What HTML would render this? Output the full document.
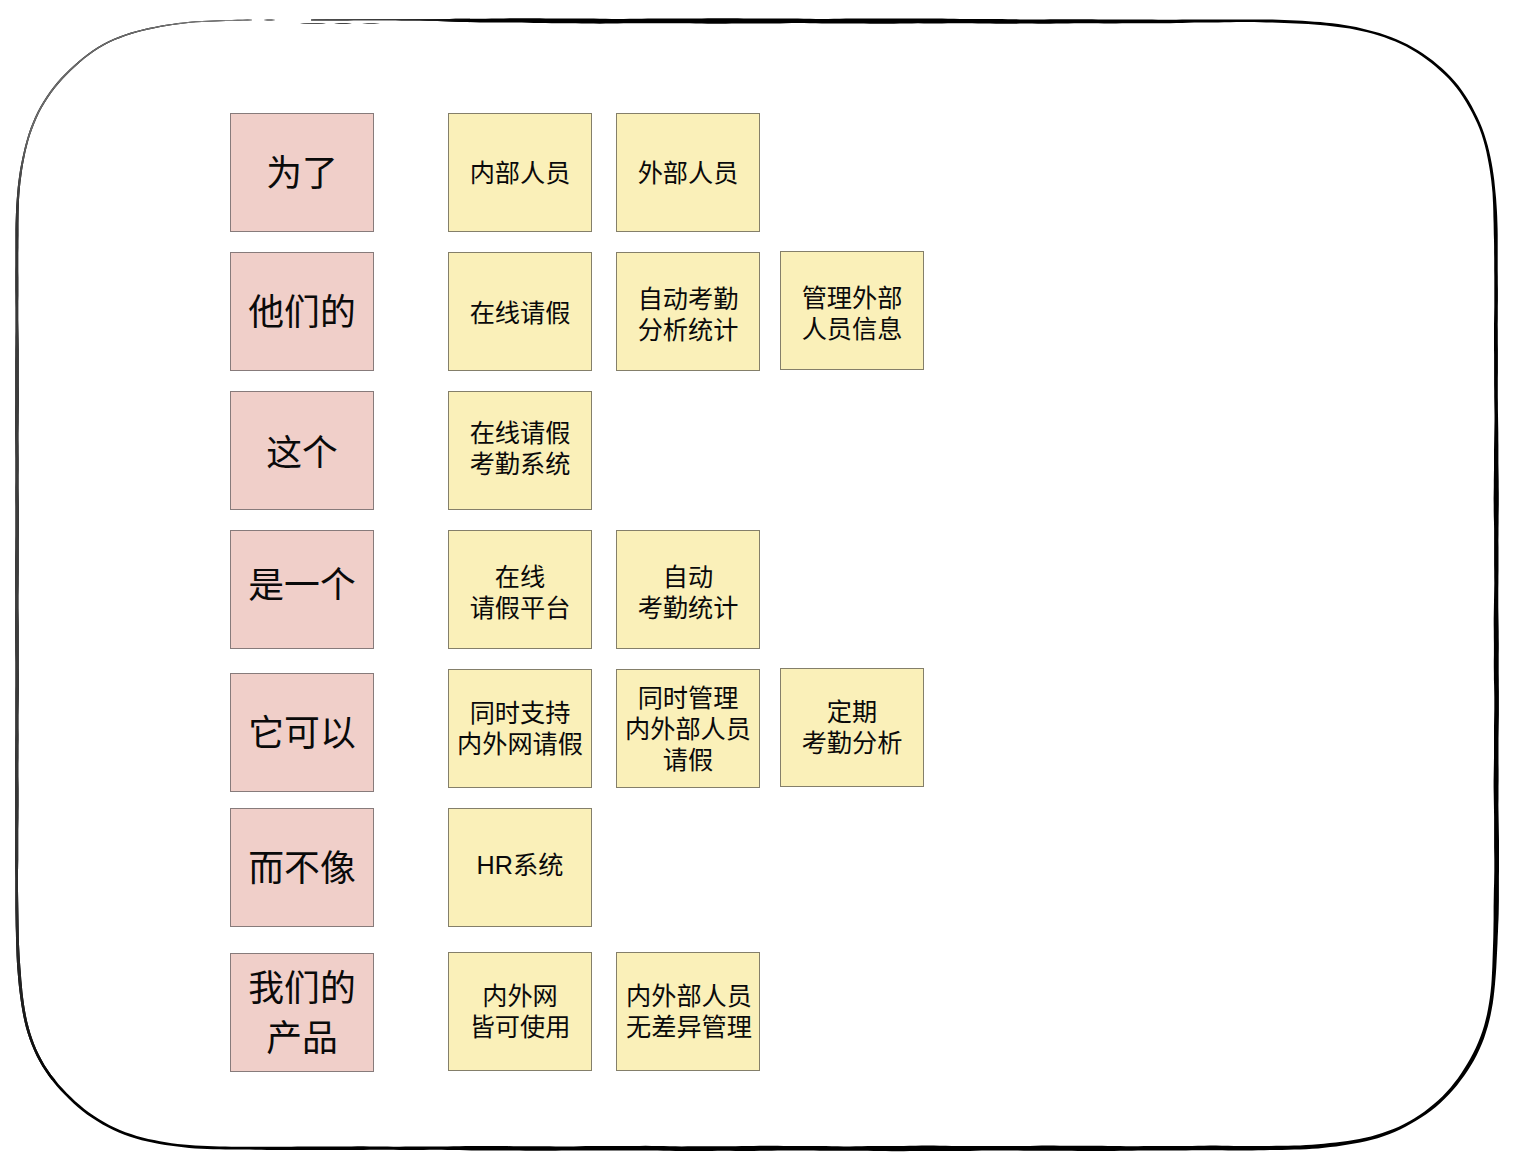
<!DOCTYPE html>
<html lang="zh-CN">
<head>
<meta charset="utf-8">
<title>Elevator pitch board</title>
<style>
html,body{margin:0;padding:0;background:#fff;}
body{width:1516px;height:1168px;overflow:hidden;font-family:"Liberation Sans","Noto Sans CJK SC",sans-serif;}
.board{position:relative;width:1516px;height:1168px;background:#fff;overflow:hidden;}
.frame{position:absolute;left:0;top:0;}
.note{position:absolute;box-sizing:border-box;width:144px;height:119px;border:1px solid #888;overflow:hidden;}
.note.pink{background:#f0cfc9;border-color:#877b7b;}
.note.yel{background:#faf0b9;border-color:#847f6a;}
.note .g{position:absolute;left:-1px;top:-1px;fill:#0a0a0a;}
.note .g text{font-family:"Liberation Sans","Noto Sans CJK SC",sans-serif;text-anchor:middle;fill:#0a0a0a;}
.note.pink .g text{font-size:35.8px;}
.note.yel .g text{font-size:25.2px;}
</style>
</head>
<body>
<div class="board">
<svg class="frame" width="1516" height="1168" viewBox="0 0 1516 1168" aria-hidden="true">
<defs><clipPath id="ring"><path d="M311.1 20.4L314.6 20.4L319.0 20.5L324.2 20.5L329.8 20.5L335.6 20.4L341.6 20.4L347.5 20.4L353.5 20.3L359.5 20.3L365.5 20.3L371.6 20.3L377.6 20.3L383.6 20.3L389.6 20.3L395.6 20.3L401.6 20.4L407.6 20.4L413.6 20.5L419.6 20.6L425.6 20.7L431.6 20.9L437.6 21.1L443.6 21.3L449.6 21.5L455.6 21.7L461.6 21.9L467.6 22.1L473.6 22.3L479.6 22.4L485.6 22.5L491.6 22.5L497.6 22.5L503.6 22.4L509.6 22.4L515.6 22.5L521.7 22.6L527.7 22.7L533.7 22.9L539.7 23.0L545.7 23.1L551.7 23.2L557.7 23.2L563.7 23.2L569.7 23.3L575.7 23.3L581.7 23.4L587.7 23.6L593.7 23.6L599.7 23.7L605.7 23.6L611.7 23.5L617.7 23.4L623.7 23.3L629.7 23.2L635.7 23.2L641.7 23.3L647.8 23.3L653.8 23.3L659.8 23.3L665.8 23.3L671.8 23.2L677.8 23.2L683.8 23.2L689.8 23.3L695.8 23.4L701.8 23.5L707.8 23.7L713.8 23.7L719.8 23.7L725.8 23.7L731.8 23.6L737.8 23.6L743.8 23.6L749.8 23.6L755.8 23.6L761.8 23.6L767.8 23.6L773.9 23.5L779.9 23.4L785.9 23.3L791.9 23.1L797.9 23.1L803.9 23.1L809.9 23.2L815.9 23.3L821.9 23.4L827.9 23.4L833.9 23.4L839.9 23.4L845.9 23.4L851.9 23.4L857.9 23.5L863.9 23.6L869.9 23.7L875.9 23.8L881.9 23.8L887.9 23.8L893.9 23.7L899.9 23.5L905.9 23.4L912.0 23.4L918.0 23.3L924.0 23.4L930.0 23.4L936.0 23.4L942.0 23.4L948.0 23.3L954.0 23.2L960.0 23.2L966.0 23.2L972.0 23.3L978.0 23.4L984.0 23.5L990.0 23.6L996.0 23.7L1002.0 23.7L1008.0 23.7L1014.0 23.7L1020.0 23.6L1026.0 23.6L1032.0 23.6L1038.0 23.7L1044.1 23.7L1050.1 23.7L1056.1 23.6L1062.1 23.5L1068.1 23.4L1074.1 23.3L1080.1 23.2L1086.1 23.2L1092.1 23.3L1098.1 23.3L1104.1 23.4L1110.1 23.4L1116.1 23.4L1122.1 23.3L1128.1 23.3L1134.1 23.2L1140.1 23.2L1146.1 23.2L1152.2 23.3L1158.2 23.3L1164.2 23.2L1170.2 23.2L1176.2 23.0L1182.2 22.9L1188.2 22.8L1194.2 22.6L1200.2 22.6L1206.2 22.5L1212.2 22.4L1218.2 22.4L1224.2 22.3L1230.2 22.2L1236.2 22.1L1242.2 22.1L1248.2 22.1L1254.2 22.1L1260.2 22.3L1266.2 22.4L1272.2 22.6L1278.2 22.8L1284.2 23.0L1290.2 23.2L1296.2 23.5L1302.1 23.7L1308.1 24.1L1314.1 24.5L1320.1 25.0L1326.0 25.6L1332.0 26.2L1337.9 26.9L1343.8 27.7L1349.7 28.6L1355.6 29.7L1361.4 30.9L1367.2 32.2L1373.0 33.8L1378.7 35.5L1384.3 37.3L1389.9 39.4L1395.4 41.6L1400.9 44.0L1406.2 46.6L1411.4 49.5L1416.5 52.5L1421.4 55.8L1426.3 59.2L1431.0 62.8L1435.6 66.5L1440.0 70.4L1444.4 74.4L1448.5 78.6L1452.5 83.0L1456.2 87.6L1459.8 92.3L1463.1 97.2L1466.2 102.3L1469.2 107.4L1472.0 112.6L1474.7 117.9L1477.2 123.3L1479.5 128.8L1481.5 134.3L1483.3 140.0L1484.9 145.7L1486.3 151.5L1487.5 157.4L1488.6 163.2L1489.6 169.1L1490.5 175.0L1491.3 180.9L1491.9 186.8L1492.5 192.8L1492.8 198.8L1493.1 204.7L1493.3 210.7L1493.4 216.7L1493.6 222.7L1493.7 228.6L1493.8 234.6L1494.0 240.6L1494.1 246.6L1494.1 252.6L1494.2 258.6L1494.2 264.6L1494.2 270.6L1494.3 276.6L1494.3 282.7L1494.3 288.7L1494.3 294.7L1494.3 300.7L1494.3 306.7L1494.2 312.7L1494.1 318.7L1494.0 324.7L1494.0 330.7L1494.0 336.7L1494.0 342.7L1494.0 348.7L1494.1 354.7L1494.1 360.7L1494.1 366.7L1494.1 372.7L1494.1 378.7L1494.1 384.7L1494.2 390.7L1494.2 396.7L1494.3 402.7L1494.4 408.8L1494.5 414.8L1494.5 420.8L1494.4 426.8L1494.3 432.8L1494.2 438.8L1494.1 444.8L1494.0 450.8L1494.0 456.8L1494.0 462.8L1494.0 468.8L1493.9 474.8L1493.8 480.8L1493.8 486.8L1493.7 492.8L1493.6 498.8L1493.7 504.8L1493.7 510.8L1493.8 516.8L1494.0 522.8L1494.1 528.8L1494.1 534.8L1494.1 540.9L1494.1 546.9L1494.1 552.9L1494.1 558.9L1494.1 564.9L1494.2 570.9L1494.2 576.9L1494.3 582.9L1494.2 588.9L1494.1 594.9L1494.0 600.9L1493.9 606.9L1493.8 612.9L1493.7 618.9L1493.7 624.9L1493.8 630.9L1493.8 636.9L1493.9 642.9L1493.9 648.9L1493.9 654.9L1493.8 660.9L1493.8 666.9L1493.9 673.0L1493.9 679.0L1494.1 685.0L1494.2 691.0L1494.3 697.0L1494.3 703.0L1494.3 709.0L1494.2 715.0L1494.1 721.0L1494.0 727.0L1494.0 733.0L1494.0 739.0L1494.0 745.0L1494.0 751.0L1494.0 757.0L1493.9 763.0L1493.8 769.0L1493.7 775.0L1493.6 781.0L1493.6 787.0L1493.7 793.0L1493.8 799.1L1493.9 805.1L1494.0 811.1L1494.1 817.1L1494.1 823.1L1494.1 829.1L1494.1 835.1L1494.1 841.1L1494.1 847.1L1494.2 853.1L1494.3 859.1L1494.3 865.1L1494.3 871.1L1494.2 877.1L1494.1 883.1L1493.9 889.1L1493.8 895.1L1493.7 901.1L1493.6 907.1L1493.6 913.1L1493.6 919.1L1493.5 925.1L1493.4 931.1L1493.3 937.1L1493.1 943.1L1492.9 949.1L1492.7 955.0L1492.5 961.0L1492.3 967.0L1492.0 973.0L1491.7 979.0L1491.3 984.9L1490.7 990.9L1490.0 996.8L1489.1 1002.7L1488.1 1008.5L1487.0 1014.3L1485.6 1020.1L1484.1 1025.8L1482.3 1031.4L1480.3 1037.0L1478.1 1042.5L1475.7 1047.9L1473.1 1053.2L1470.3 1058.4L1467.4 1063.5L1464.3 1068.6L1461.1 1073.6L1457.7 1078.4L1454.1 1083.1L1450.4 1087.7L1446.5 1092.1L1442.3 1096.4L1438.0 1100.4L1433.6 1104.3L1429.0 1108.1L1424.3 1111.7L1419.5 1115.1L1414.5 1118.3L1409.4 1121.3L1404.2 1124.1L1398.8 1126.7L1393.4 1129.0L1387.8 1131.1L1382.3 1133.1L1376.6 1134.8L1370.9 1136.4L1365.1 1137.8L1359.3 1139.0L1353.5 1140.1L1347.6 1141.0L1341.7 1141.8L1335.8 1142.5L1329.8 1143.1L1323.9 1143.7L1317.9 1144.2L1312.0 1144.7L1306.0 1145.1L1300.0 1145.4L1294.0 1145.6L1288.0 1145.7L1282.0 1145.8L1276.1 1145.8L1270.1 1145.9L1264.1 1145.9L1258.1 1146.0L1252.1 1146.1L1246.1 1146.1L1240.1 1146.0L1234.1 1145.9L1228.1 1145.8L1222.0 1145.7L1216.0 1145.6L1210.0 1145.6L1204.0 1145.7L1198.0 1145.8L1192.0 1145.9L1186.0 1145.9L1180.0 1145.9L1174.0 1145.9L1168.0 1145.9L1162.0 1145.9L1156.0 1146.0L1150.0 1146.0L1144.0 1146.1L1138.0 1146.2L1132.0 1146.3L1126.0 1146.2L1120.0 1146.1L1114.0 1146.0L1108.0 1145.9L1102.0 1145.8L1096.0 1145.8L1089.9 1145.8L1083.9 1145.8L1077.9 1145.8L1071.9 1145.8L1065.9 1145.7L1059.9 1145.7L1053.9 1145.6L1047.9 1145.6L1041.9 1145.6L1035.9 1145.7L1029.9 1145.9L1023.9 1146.0L1017.9 1146.1L1011.9 1146.1L1005.9 1146.1L999.9 1146.1L993.9 1146.0L987.9 1146.0L981.9 1146.1L975.9 1146.1L969.9 1146.1L963.9 1146.1L957.8 1146.1L951.8 1145.9L945.8 1145.8L939.8 1145.7L933.8 1145.6L927.8 1145.6L921.8 1145.6L915.8 1145.7L909.8 1145.8L903.8 1145.9L897.8 1145.9L891.8 1145.9L885.8 1145.9L879.8 1145.9L873.8 1145.9L867.8 1146.0L861.8 1146.2L855.8 1146.3L849.8 1146.4L843.8 1146.4L837.8 1146.3L831.8 1146.2L825.7 1146.1L819.7 1146.0L813.7 1146.0L807.7 1146.0L801.7 1146.0L795.7 1146.0L789.7 1146.0L783.7 1145.9L777.7 1145.8L771.7 1145.8L765.7 1145.7L759.7 1145.8L753.7 1145.9L747.7 1146.0L741.7 1146.1L735.7 1146.2L729.7 1146.2L723.7 1146.2L717.7 1146.2L711.7 1146.2L705.7 1146.2L699.7 1146.2L693.6 1146.3L687.6 1146.3L681.6 1146.4L675.6 1146.3L669.6 1146.2L663.6 1146.1L657.6 1146.0L651.6 1145.9L645.6 1145.8L639.6 1145.9L633.6 1145.9L627.6 1146.0L621.6 1146.0L615.6 1146.0L609.6 1146.0L603.6 1146.0L597.6 1146.0L591.6 1146.0L585.6 1146.1L579.6 1146.2L573.6 1146.4L567.6 1146.4L561.5 1146.5L555.5 1146.4L549.5 1146.3L543.5 1146.2L537.5 1146.2L531.5 1146.2L525.5 1146.2L519.5 1146.2L513.5 1146.2L507.5 1146.1L501.5 1146.1L495.5 1146.0L489.5 1145.9L483.5 1145.9L477.5 1145.9L471.5 1146.0L465.5 1146.1L459.5 1146.2L453.5 1146.3L447.5 1146.4L441.5 1146.4L435.4 1146.4L429.4 1146.4L423.4 1146.4L417.4 1146.5L411.4 1146.6L405.4 1146.6L399.4 1146.7L393.4 1146.7L387.4 1146.6L381.4 1146.5L375.4 1146.4L369.4 1146.4L363.4 1146.3L357.4 1146.3L351.4 1146.4L345.4 1146.4L339.4 1146.4L333.4 1146.4L327.4 1146.4L321.4 1146.4L315.4 1146.4L309.4 1146.4L303.3 1146.5L297.3 1146.6L291.3 1146.7L285.3 1146.8L279.3 1146.8L273.3 1146.8L267.3 1146.8L261.3 1146.8L255.3 1146.7L249.3 1146.7L243.3 1146.7L237.3 1146.7L231.3 1146.7L225.3 1146.6L219.3 1146.5L213.3 1146.3L207.3 1146.1L201.4 1145.8L195.4 1145.5L189.5 1145.1L183.5 1144.6L177.6 1143.9L171.6 1143.2L165.7 1142.3L159.9 1141.3L154.0 1140.1L148.2 1138.9L142.4 1137.4L136.7 1135.9L131.0 1134.1L125.4 1132.2L119.9 1130.0L114.4 1127.5L109.1 1124.9L103.9 1122.1L98.8 1119.0L93.8 1115.8L89.0 1112.4L84.3 1108.9L79.7 1105.1L75.2 1101.2L70.9 1097.1L66.7 1092.9L62.6 1088.6L58.6 1084.2L54.9 1079.6L51.2 1074.9L47.8 1070.1L44.6 1065.2L41.7 1060.1L38.9 1054.8L36.4 1049.4L34.1 1044.0L32.1 1038.4L30.2 1032.7L28.6 1027.0L27.1 1021.3L25.9 1015.5L24.8 1009.6L23.9 1003.7L23.1 997.8L22.4 991.9L21.9 985.9L21.3 979.9L20.9 974.0L20.4 968.0L20.0 962.0L19.6 956.1L19.3 950.1L19.0 944.1L18.8 938.1L18.7 932.1L18.6 926.1L18.5 920.1L18.4 914.1L18.3 908.1L18.2 902.1L18.1 896.1L18.0 890.1L18.0 884.1L18.0 878.1L18.0 872.1L18.1 866.1L18.2 860.1L18.2 854.1L18.2 848.1L18.2 842.1L18.2 836.1L18.2 830.1L18.3 824.1L18.4 818.1L18.4 812.1L18.5 806.1L18.5 800.0L18.5 794.0L18.5 788.0L18.4 782.0L18.3 776.0L18.3 770.0L18.3 764.0L18.4 758.0L18.4 752.0L18.4 746.0L18.5 740.0L18.5 734.0L18.4 728.0L18.4 722.0L18.4 716.0L18.5 710.0L18.6 704.0L18.7 698.0L18.8 692.0L18.8 686.0L18.8 680.0L18.8 673.9L18.7 667.9L18.7 661.9L18.7 655.9L18.7 649.9L18.7 643.9L18.7 637.9L18.7 631.9L18.7 625.9L18.6 619.9L18.5 613.9L18.4 607.9L18.4 601.9L18.4 595.9L18.5 589.9L18.6 583.9L18.6 577.9L18.7 571.9L18.7 565.9L18.7 559.9L18.7 553.9L18.7 547.8L18.7 541.8L18.8 535.8L18.8 529.8L18.9 523.8L18.9 517.8L18.9 511.8L18.8 505.8L18.7 499.8L18.6 493.8L18.5 487.8L18.5 481.8L18.5 475.8L18.6 469.8L18.6 463.8L18.6 457.8L18.5 451.8L18.5 445.8L18.4 439.8L18.4 433.8L18.5 427.8L18.6 421.8L18.6 415.7L18.7 409.7L18.8 403.7L18.8 397.7L18.8 391.7L18.7 385.7L18.7 379.7L18.7 373.7L18.7 367.7L18.7 361.7L18.7 355.7L18.7 349.7L18.6 343.7L18.5 337.7L18.4 331.7L18.3 325.7L18.2 319.7L18.2 313.7L18.2 307.7L18.2 301.7L18.3 295.7L18.3 289.6L18.3 283.6L18.3 277.6L18.2 271.6L18.2 265.6L18.2 259.6L18.2 253.6L18.3 247.6L18.3 241.6L18.4 235.6L18.4 229.6L18.4 223.6L18.5 217.6L18.6 211.6L18.8 205.7L19.0 199.7L19.4 193.7L19.9 187.8L20.5 181.8L21.3 175.9L22.1 170.0L23.1 164.1L24.2 158.2L25.4 152.3L26.8 146.5L28.3 140.8L30.0 135.1L32.0 129.4L34.1 123.9L36.4 118.4L38.9 113.1L41.7 107.8L44.7 102.7L47.9 97.7L51.3 92.8L54.9 88.1L58.7 83.5L62.6 79.0L66.7 74.7L70.9 70.5L75.3 66.4L79.7 62.5L84.3 58.6L89.0 55.0L93.8 51.5L98.8 48.3L104.0 45.3L109.2 42.6L114.6 40.1L120.1 37.9L125.7 35.8L131.4 33.9L137.1 32.3L142.9 30.8L148.7 29.4L154.6 28.2L160.4 27.1L166.3 26.0L172.3 25.1L178.2 24.2L184.1 23.5L190.1 22.8L196.0 22.3L202.0 21.9L208.0 21.7L214.0 21.4L220.0 21.2L225.9 21.0L231.8 20.9L237.5 20.7L242.8 20.6L247.5 20.4L251.4 20.3L252.4 20.0L252.4 20.0L251.4 19.7L247.5 19.6L242.8 19.7L237.5 19.8L231.8 19.9L225.9 20.1L220.0 20.3L214.0 20.5L208.0 20.7L202.0 21.0L196.0 21.3L190.0 21.8L184.0 22.4L178.0 23.1L172.1 23.9L166.1 24.8L160.2 25.8L154.3 26.9L148.4 28.1L142.6 29.5L136.7 31.0L131.0 32.6L125.2 34.5L119.6 36.5L114.0 38.7L108.5 41.2L103.2 44.0L98.0 47.0L93.0 50.3L88.1 53.8L83.3 57.4L78.7 61.3L74.2 65.3L69.8 69.3L65.5 73.5L61.3 77.8L57.3 82.3L53.5 87.0L49.9 91.8L46.5 96.7L43.3 101.8L40.2 107.0L37.4 112.3L34.8 117.7L32.5 123.2L30.3 128.8L28.4 134.5L26.7 140.3L25.1 146.1L23.7 151.9L22.4 157.8L21.2 163.7L20.1 169.6L19.2 175.6L18.4 181.6L17.7 187.5L17.2 193.5L16.7 199.5L16.3 205.5L16.0 211.6L15.8 217.6L15.6 223.6L15.5 229.6L15.5 235.6L15.5 241.6L15.5 247.6L15.5 253.6L15.5 259.6L15.5 265.6L15.4 271.6L15.4 277.6L15.4 283.7L15.4 289.7L15.5 295.7L15.5 301.7L15.6 307.7L15.6 313.7L15.6 319.7L15.6 325.7L15.6 331.7L15.5 337.7L15.5 343.7L15.4 349.7L15.4 355.7L15.3 361.7L15.3 367.7L15.3 373.7L15.3 379.7L15.3 385.7L15.3 391.7L15.3 397.7L15.3 403.7L15.2 409.7L15.2 415.7L15.2 421.8L15.2 427.8L15.2 433.8L15.3 439.8L15.4 445.8L15.4 451.8L15.5 457.8L15.5 463.8L15.5 469.8L15.5 475.8L15.5 481.8L15.4 487.8L15.4 493.8L15.4 499.8L15.5 505.8L15.5 511.8L15.5 517.8L15.5 523.8L15.5 529.8L15.5 535.8L15.4 541.8L15.4 547.9L15.3 553.9L15.2 559.9L15.2 565.9L15.2 571.9L15.2 577.9L15.2 583.9L15.2 589.9L15.3 595.9L15.3 601.9L15.3 607.9L15.2 613.9L15.2 619.9L15.2 625.9L15.2 631.9L15.2 637.9L15.3 643.9L15.3 649.9L15.4 655.9L15.5 661.9L15.5 667.9L15.5 673.9L15.5 680.0L15.5 686.0L15.4 692.0L15.4 698.0L15.4 704.0L15.4 710.0L15.4 716.0L15.4 722.0L15.4 728.0L15.4 734.0L15.3 740.0L15.3 746.0L15.2 752.0L15.1 758.0L15.1 764.0L15.0 770.0L15.0 776.0L15.0 782.0L15.0 788.0L15.0 794.0L15.0 800.0L15.0 806.0L15.0 812.0L15.0 818.1L15.0 824.1L15.0 830.1L15.0 836.1L15.0 842.1L15.0 848.1L15.1 854.1L15.2 860.1L15.2 866.1L15.3 872.1L15.4 878.1L15.4 884.1L15.4 890.1L15.4 896.1L15.4 902.1L15.4 908.1L15.5 914.1L15.6 920.2L15.7 926.2L15.9 932.2L16.0 938.2L16.2 944.2L16.4 950.2L16.6 956.2L16.9 962.2L17.3 968.2L17.8 974.2L18.3 980.2L18.9 986.2L19.6 992.2L20.4 998.2L21.2 1004.1L22.2 1010.1L23.3 1016.0L24.6 1021.9L26.0 1027.7L27.7 1033.5L29.6 1039.3L31.8 1044.9L34.1 1050.5L36.6 1055.9L39.4 1061.3L42.4 1066.5L45.7 1071.6L49.1 1076.5L52.8 1081.3L56.6 1085.9L60.6 1090.4L64.8 1094.8L69.0 1099.1L73.4 1103.2L77.9 1107.2L82.5 1111.1L87.3 1114.7L92.3 1118.1L97.4 1121.3L102.6 1124.4L107.9 1127.2L113.3 1129.9L118.8 1132.4L124.4 1134.7L130.1 1136.8L135.8 1138.6L141.7 1140.2L147.5 1141.6L153.4 1142.8L159.4 1143.9L165.3 1144.9L171.3 1145.8L177.2 1146.6L183.2 1147.3L189.2 1147.9L195.2 1148.4L201.2 1148.8L207.2 1149.1L213.2 1149.2L219.3 1149.3L225.3 1149.4L231.3 1149.4L237.3 1149.5L243.3 1149.6L249.3 1149.6L255.3 1149.7L261.3 1149.8L267.3 1149.9L273.3 1149.9L279.3 1149.9L285.3 1149.9L291.3 1149.9L297.3 1149.9L303.3 1149.9L309.4 1149.9L315.4 1150.0L321.4 1150.0L327.4 1150.1L333.4 1150.1L339.4 1150.1L345.4 1150.1L351.4 1150.0L357.4 1150.0L363.4 1149.9L369.4 1149.8L375.4 1149.8L381.4 1149.8L387.4 1149.8L393.4 1149.8L399.4 1149.9L405.4 1149.9L411.4 1149.9L417.4 1149.9L423.4 1149.9L429.4 1149.8L435.4 1149.8L441.5 1149.8L447.5 1149.9L453.5 1150.0L459.5 1150.1L465.5 1150.3L471.5 1150.4L477.5 1150.5L483.5 1150.6L489.5 1150.6L495.5 1150.6L501.5 1150.6L507.5 1150.6L513.5 1150.6L519.5 1150.6L525.5 1150.7L531.5 1150.7L537.5 1150.8L543.5 1150.8L549.5 1150.8L555.5 1150.7L561.5 1150.6L567.5 1150.5L573.6 1150.5L579.6 1150.4L585.6 1150.4L591.6 1150.4L597.6 1150.4L603.6 1150.5L609.6 1150.5L615.6 1150.5L621.6 1150.5L627.6 1150.5L633.6 1150.5L639.6 1150.5L645.6 1150.5L651.6 1150.5L657.6 1150.6L663.6 1150.7L669.6 1150.8L675.6 1150.9L681.6 1151.0L687.6 1151.0L693.6 1151.0L699.7 1151.0L705.7 1150.9L711.7 1150.9L717.7 1150.8L723.7 1150.8L729.7 1150.8L735.7 1150.9L741.7 1150.9L747.7 1150.9L753.7 1150.9L759.7 1150.8L765.7 1150.8L771.7 1150.7L777.7 1150.6L783.7 1150.5L789.7 1150.4L795.7 1150.4L801.7 1150.5L807.7 1150.5L813.7 1150.6L819.7 1150.7L825.7 1150.7L831.8 1150.7L837.8 1150.7L843.8 1150.7L849.8 1150.7L855.8 1150.7L861.8 1150.7L867.8 1150.8L873.8 1150.9L879.8 1151.0L885.8 1151.1L891.8 1151.2L897.8 1151.2L903.8 1151.2L909.8 1151.1L915.8 1151.0L921.8 1151.0L927.8 1150.9L933.8 1150.9L939.8 1151.0L945.8 1151.0L951.8 1151.0L957.8 1151.0L963.9 1150.9L969.9 1150.9L975.9 1150.8L981.9 1150.6L987.9 1150.6L993.9 1150.5L999.9 1150.5L1005.9 1150.5L1011.9 1150.6L1017.9 1150.6L1023.9 1150.7L1029.9 1150.8L1035.9 1150.8L1041.9 1150.8L1047.9 1150.7L1053.9 1150.7L1059.9 1150.7L1065.9 1150.7L1071.9 1150.8L1077.9 1150.9L1083.9 1150.9L1090.0 1151.0L1096.0 1151.1L1102.0 1151.1L1108.0 1151.0L1114.0 1150.9L1120.0 1150.8L1126.0 1150.7L1132.0 1150.7L1138.0 1150.6L1144.0 1150.6L1150.0 1150.6L1156.0 1150.6L1162.0 1150.6L1168.0 1150.6L1174.0 1150.5L1180.0 1150.5L1186.0 1150.4L1192.0 1150.3L1198.0 1150.2L1204.0 1150.2L1210.0 1150.2L1216.0 1150.3L1222.1 1150.3L1228.1 1150.4L1234.1 1150.5L1240.1 1150.5L1246.1 1150.5L1252.1 1150.4L1258.1 1150.3L1264.1 1150.2L1270.1 1150.1L1276.1 1150.0L1282.1 1149.9L1288.2 1149.8L1294.2 1149.6L1300.2 1149.5L1306.2 1149.2L1312.2 1148.8L1318.2 1148.4L1324.2 1147.8L1330.2 1147.1L1336.2 1146.4L1342.2 1145.6L1348.2 1144.6L1354.1 1143.6L1360.0 1142.5L1365.9 1141.3L1371.8 1139.8L1377.6 1138.2L1383.4 1136.3L1389.0 1134.2L1394.6 1131.9L1400.1 1129.4L1405.5 1126.7L1410.8 1123.8L1416.0 1120.8L1421.2 1117.6L1426.2 1114.3L1431.0 1110.7L1435.8 1106.9L1440.3 1102.9L1444.7 1098.8L1448.9 1094.4L1453.0 1090.0L1456.9 1085.4L1460.6 1080.6L1464.2 1075.7L1467.6 1070.7L1470.9 1065.6L1473.9 1060.4L1476.8 1055.1L1479.4 1049.6L1481.8 1044.0L1484.0 1038.4L1485.9 1032.6L1487.7 1026.8L1489.2 1021.0L1490.6 1015.1L1491.7 1009.2L1492.8 1003.2L1493.6 997.2L1494.3 991.3L1494.9 985.3L1495.4 979.3L1495.9 973.3L1496.3 967.3L1496.6 961.2L1496.9 955.2L1497.2 949.2L1497.5 943.2L1497.7 937.2L1498.0 931.2L1498.2 925.2L1498.5 919.2L1498.7 913.2L1498.8 907.2L1498.9 901.2L1498.9 895.1L1498.9 889.1L1498.9 883.1L1498.9 877.1L1499.0 871.1L1499.0 865.1L1499.0 859.1L1499.0 853.1L1499.0 847.1L1499.0 841.1L1498.9 835.1L1498.8 829.1L1498.7 823.1L1498.6 817.1L1498.5 811.1L1498.4 805.1L1498.5 799.0L1498.5 793.0L1498.5 787.0L1498.6 781.0L1498.6 775.0L1498.6 769.0L1498.5 763.0L1498.5 757.0L1498.5 751.0L1498.5 745.0L1498.5 739.0L1498.6 733.0L1498.7 727.0L1498.8 721.0L1498.9 715.0L1498.9 709.0L1498.9 703.0L1498.9 697.0L1498.9 691.0L1498.8 685.0L1498.8 679.0L1498.7 673.0L1498.7 666.9L1498.7 660.9L1498.7 654.9L1498.8 648.9L1498.8 642.9L1498.7 636.9L1498.7 630.9L1498.6 624.9L1498.5 618.9L1498.4 612.9L1498.3 606.9L1498.3 600.9L1498.3 594.9L1498.3 588.9L1498.4 582.9L1498.4 576.9L1498.5 570.9L1498.5 564.9L1498.5 558.9L1498.5 552.9L1498.5 546.9L1498.4 540.8L1498.5 534.8L1498.5 528.8L1498.6 522.8L1498.6 516.8L1498.7 510.8L1498.8 504.8L1498.8 498.8L1498.8 492.8L1498.7 486.8L1498.7 480.8L1498.6 474.8L1498.5 468.8L1498.4 462.8L1498.4 456.8L1498.4 450.8L1498.4 444.8L1498.3 438.8L1498.3 432.8L1498.2 426.8L1498.1 420.8L1498.0 414.8L1497.9 408.7L1497.9 402.7L1497.8 396.7L1497.8 390.7L1497.8 384.7L1497.8 378.7L1497.9 372.7L1497.9 366.7L1497.9 360.7L1497.9 354.7L1497.9 348.7L1497.8 342.7L1497.8 336.7L1497.8 330.7L1497.7 324.7L1497.8 318.7L1497.8 312.7L1497.8 306.7L1497.9 300.7L1497.9 294.7L1497.9 288.7L1497.8 282.7L1497.8 276.6L1497.7 270.6L1497.7 264.6L1497.7 258.6L1497.7 252.6L1497.7 246.6L1497.7 240.6L1497.7 234.6L1497.6 228.6L1497.4 222.6L1497.2 216.6L1496.9 210.5L1496.5 204.5L1496.1 198.5L1495.5 192.5L1494.9 186.5L1494.3 180.5L1493.5 174.6L1492.6 168.6L1491.6 162.7L1490.4 156.8L1489.1 150.9L1487.6 145.0L1485.9 139.2L1484.1 133.5L1482.0 127.8L1479.7 122.2L1477.2 116.8L1474.5 111.4L1471.7 106.0L1468.7 100.8L1465.5 95.7L1462.1 90.7L1458.5 85.8L1454.7 81.2L1450.6 76.7L1446.4 72.4L1441.9 68.3L1437.4 64.4L1432.7 60.6L1427.8 57.0L1422.9 53.6L1417.8 50.3L1412.6 47.2L1407.3 44.3L1401.9 41.7L1396.4 39.2L1390.8 37.0L1385.1 35.0L1379.4 33.1L1373.6 31.4L1367.8 29.9L1362.0 28.4L1356.1 27.1L1350.2 25.9L1344.2 24.9L1338.3 24.0L1332.3 23.3L1326.3 22.7L1320.3 22.1L1314.3 21.7L1308.3 21.2L1302.3 20.8L1296.3 20.5L1290.3 20.2L1284.3 19.9L1278.3 19.7L1272.3 19.6L1266.3 19.5L1260.2 19.4L1254.2 19.4L1248.2 19.4L1242.2 19.4L1236.2 19.4L1230.2 19.4L1224.2 19.4L1218.2 19.4L1212.2 19.4L1206.2 19.4L1200.2 19.5L1194.2 19.5L1188.2 19.6L1182.1 19.6L1176.1 19.7L1170.1 19.7L1164.1 19.7L1158.1 19.7L1152.1 19.6L1146.1 19.5L1140.1 19.4L1134.1 19.4L1128.1 19.4L1122.1 19.4L1116.1 19.4L1110.1 19.4L1104.1 19.4L1098.1 19.4L1092.1 19.3L1086.1 19.3L1080.1 19.2L1074.1 19.2L1068.1 19.2L1062.1 19.2L1056.1 19.2L1050.1 19.3L1044.1 19.4L1038.1 19.4L1032.1 19.4L1026.0 19.4L1020.0 19.4L1014.0 19.3L1008.0 19.2L1002.0 19.1L996.0 19.1L990.0 19.0L984.0 19.0L978.0 19.0L972.0 19.0L966.0 19.0L960.0 18.9L954.0 18.8L948.0 18.7L942.0 18.6L936.0 18.5L930.0 18.4L924.0 18.4L918.0 18.4L912.0 18.4L906.0 18.5L900.0 18.5L893.9 18.6L887.9 18.6L881.9 18.5L875.9 18.5L869.9 18.5L863.9 18.5L857.9 18.5L851.9 18.6L845.9 18.6L839.9 18.7L833.9 18.8L827.9 18.9L821.9 18.9L815.9 18.9L809.9 18.8L803.9 18.7L797.9 18.6L791.9 18.6L785.9 18.6L779.9 18.6L773.9 18.6L767.8 18.6L761.8 18.6L755.8 18.6L749.8 18.5L743.8 18.4L737.8 18.3L731.8 18.3L725.8 18.2L719.8 18.2L713.8 18.2L707.8 18.3L701.8 18.4L695.8 18.5L689.8 18.5L683.8 18.6L677.8 18.6L671.8 18.6L665.8 18.6L659.8 18.6L653.8 18.6L647.8 18.6L641.8 18.7L635.7 18.7L629.7 18.8L623.7 18.9L617.7 18.9L611.7 18.9L605.7 18.8L599.7 18.7L593.7 18.6L587.7 18.5L581.7 18.4L575.7 18.4L569.7 18.4L563.7 18.4L557.7 18.4L551.7 18.4L545.7 18.4L539.7 18.3L533.7 18.3L527.7 18.2L521.7 18.2L515.7 18.2L509.7 18.3L503.7 18.4L497.7 18.5L491.6 18.6L485.6 18.7L479.6 18.7L473.6 18.8L467.6 18.8L461.6 18.8L455.6 18.8L449.6 18.9L443.6 18.9L437.6 19.0L431.6 19.0L425.6 19.1L419.6 19.0L413.6 19.0L407.6 19.0L401.6 19.0L395.6 18.9L389.6 18.9L383.6 18.9L377.6 18.9L371.5 18.9L365.5 18.9L359.5 19.0L353.5 19.0L347.5 19.0L341.5 19.1L335.6 19.1L329.8 19.1L324.2 19.2L319.0 19.2L314.6 19.3L311.1 19.4Z M263.5 19.9L267.5 20.4L271.5 20.4L275.5 19.9L275.5 19.9L271.5 19.4L267.5 19.4L263.5 19.9Z M300.0 23.3L303.8 23.5L308.7 23.8L313.0 23.8L317.3 23.8L322.2 23.5L326.0 23.3L326.0 23.3L322.2 23.1L317.3 22.9L313.0 22.9L308.7 22.9L303.8 23.1L300.0 23.3Z M334.0 23.4L340.0 23.8L346.0 23.8L352.0 23.4L352.0 23.4L346.0 23.0L340.0 23.0L334.0 23.4Z M362.0 23.4L368.0 23.6L374.0 23.6L380.0 23.4L380.0 23.4L374.0 23.1L368.0 23.1L362.0 23.4Z"/></clipPath><linearGradient id="gl" gradientUnits="userSpaceOnUse" x1="0" y1="130" x2="0" y2="1080"><stop offset="0.0000" stop-color="#6b6b6b"/><stop offset="0.0368" stop-color="#525252"/><stop offset="0.0821" stop-color="#383838"/><stop offset="0.1105" stop-color="#333333"/><stop offset="0.2211" stop-color="#3b3b3b"/><stop offset="0.3684" stop-color="#3d3d3d"/><stop offset="0.4947" stop-color="#3d3d3d"/><stop offset="0.6421" stop-color="#383838"/><stop offset="0.7474" stop-color="#333333"/><stop offset="0.8368" stop-color="#292929"/><stop offset="0.9158" stop-color="#1f1f1f"/><stop offset="0.9653" stop-color="#0f0f0f"/><stop offset="1.0000" stop-color="#000000"/></linearGradient><linearGradient id="gt" gradientUnits="userSpaceOnUse" x1="130" y1="0" x2="470" y2="0"><stop offset="0.0000" stop-color="#6b6b6b"/><stop offset="0.1118" stop-color="#737373"/><stop offset="0.1853" stop-color="#808080"/><stop offset="0.4706" stop-color="#808080"/><stop offset="0.5147" stop-color="#616161"/><stop offset="0.5882" stop-color="#4c4c4c"/><stop offset="0.6765" stop-color="#404040"/><stop offset="0.7824" stop-color="#333333"/><stop offset="0.8765" stop-color="#1f1f1f"/><stop offset="0.9353" stop-color="#0d0d0d"/><stop offset="1.0000" stop-color="#000000"/></linearGradient></defs>
<g clip-path="url(#ring)"><rect x="0" y="0" width="1516" height="1168" fill="#000"/><rect x="0" y="0" width="130" height="130" fill="#6b6b6b"/><rect x="0" y="130" width="130" height="950" fill="url(#gl)"/><rect x="130" y="0" width="340" height="130" fill="url(#gt)"/></g>
</svg>
<div class="note pink" style="left:230px;top:113px"><svg class="g" width="144" height="119" viewBox="0 0 144 119"><text x="72" y="72.8">为了</text></svg></div>
<div class="note pink" style="left:230px;top:252px"><svg class="g" width="144" height="119" viewBox="0 0 144 119"><text x="72" y="72.8">他们的</text></svg></div>
<div class="note pink" style="left:230px;top:391px"><svg class="g" width="144" height="119" viewBox="0 0 144 119"><text x="72" y="74.8">这个</text></svg></div>
<div class="note pink" style="left:230px;top:530px"><svg class="g" width="144" height="119" viewBox="0 0 144 119"><text x="72" y="68">是一个</text></svg></div>
<div class="note pink" style="left:230px;top:673px"><svg class="g" width="144" height="119" viewBox="0 0 144 119"><text x="72" y="72.8">它可以</text></svg></div>
<div class="note pink" style="left:230px;top:808px"><svg class="g" width="144" height="119" viewBox="0 0 144 119"><text x="72" y="72.8">而不像</text></svg></div>
<div class="note pink" style="left:230px;top:953px"><svg class="g" width="144" height="119" viewBox="0 0 144 119"><text x="72" y="47.8">我们的</text><text x="72" y="97.8">产品</text></svg></div>
<div class="note yel" style="left:448px;top:113px"><svg class="g" width="144" height="119" viewBox="0 0 144 119"><text x="72" y="68.78">内部人员</text></svg></div>
<div class="note yel" style="left:448px;top:252px"><svg class="g" width="144" height="119" viewBox="0 0 144 119"><text x="72" y="70.48">在线请假</text></svg></div>
<div class="note yel" style="left:448px;top:391px"><svg class="g" width="144" height="119" viewBox="0 0 144 119"><text x="72" y="51.38">在线请假</text><text x="72" y="82.38">考勤系统</text></svg></div>
<div class="note yel" style="left:448px;top:530px"><svg class="g" width="144" height="119" viewBox="0 0 144 119"><text x="72" y="55.58">在线</text><text x="72" y="86.58">请假平台</text></svg></div>
<div class="note yel" style="left:448px;top:669px"><svg class="g" width="144" height="119" viewBox="0 0 144 119"><text x="72" y="53.28">同时支持</text><text x="72" y="84.28">内外网请假</text></svg></div>
<div class="note yel" style="left:448px;top:808px"><svg class="g" width="144" height="119" viewBox="0 0 144 119"><text x="72" y="66.18">HR系统</text></svg></div>
<div class="note yel" style="left:448px;top:952px"><svg class="g" width="144" height="119" viewBox="0 0 144 119"><text x="72" y="53.28">内外网</text><text x="72" y="84.28">皆可使用</text></svg></div>
<div class="note yel" style="left:616px;top:113px"><svg class="g" width="144" height="119" viewBox="0 0 144 119"><text x="72" y="68.78">外部人员</text></svg></div>
<div class="note yel" style="left:616px;top:252px"><svg class="g" width="144" height="119" viewBox="0 0 144 119"><text x="72" y="55.58">自动考勤</text><text x="72" y="86.58">分析统计</text></svg></div>
<div class="note yel" style="left:616px;top:530px"><svg class="g" width="144" height="119" viewBox="0 0 144 119"><text x="72" y="55.58">自动</text><text x="72" y="86.58">考勤统计</text></svg></div>
<div class="note yel" style="left:616px;top:669px"><svg class="g" width="144" height="119" viewBox="0 0 144 119"><text x="72" y="37.78">同时管理</text><text x="72" y="68.78">内外部人员</text><text x="72" y="99.78">请假</text></svg></div>
<div class="note yel" style="left:616px;top:952px"><svg class="g" width="144" height="119" viewBox="0 0 144 119"><text x="73" y="53.28">内外部人员</text><text x="73" y="84.28">无差异管理</text></svg></div>
<div class="note yel" style="left:780px;top:251px"><svg class="g" width="144" height="119" viewBox="0 0 144 119"><text x="72" y="55.58">管理外部</text><text x="72" y="86.58">人员信息</text></svg></div>
<div class="note yel" style="left:780px;top:668px"><svg class="g" width="144" height="119" viewBox="0 0 144 119"><text x="72" y="53.28">定期</text><text x="72" y="84.28">考勤分析</text></svg></div>
</div>
</body>
</html>
